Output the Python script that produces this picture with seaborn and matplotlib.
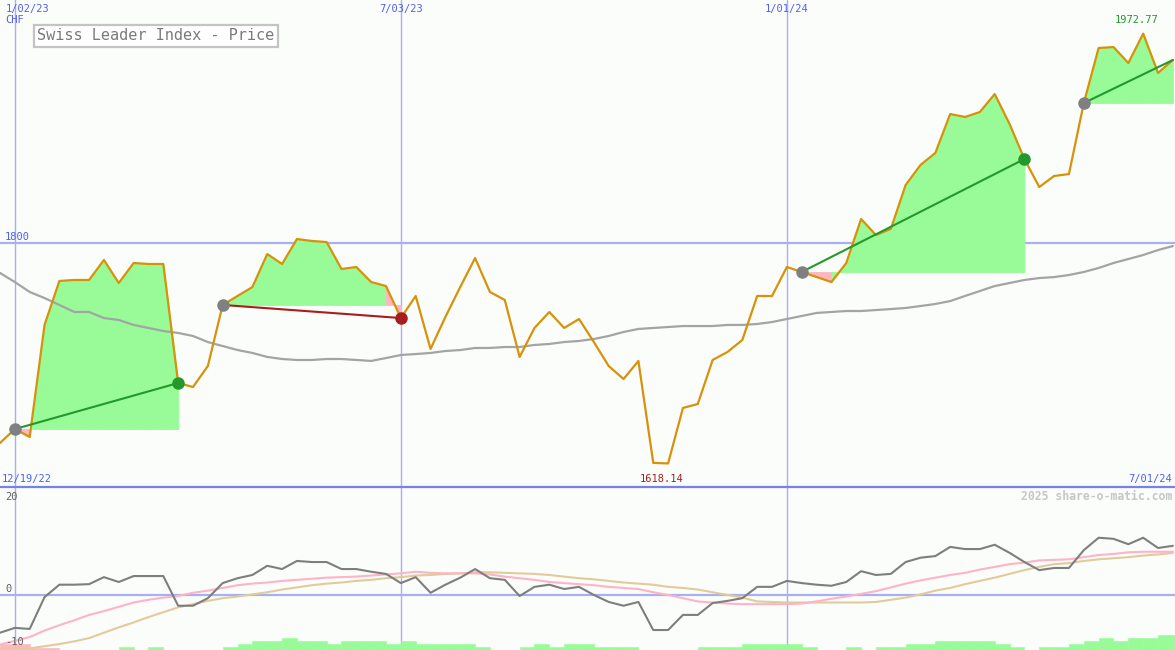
import numpy as np
import pandas as pd
import matplotlib
matplotlib.use('Agg')
import matplotlib.pyplot as plt
import matplotlib.dates as mdates
import matplotlib.transforms as mtransforms
import seaborn as sns

# weekly closes, Swiss Leader Index (CHF)
dates = pd.date_range('2022-12-26', periods=80, freq='7D')
price = [1635.0, 1646.5, 1640.0, 1732.4, 1768.7, 1769.5, 1769.5, 1786.0, 1767.0, 1783.5,
         1782.7, 1782.7, 1684.5, 1681.2, 1698.5, 1748.9, 1756.3, 1763.7, 1790.9, 1782.7,
         1803.3, 1801.7, 1800.8, 1778.6, 1780.2, 1767.8, 1764.5, 1738.1, 1756.3, 1712.6,
         1739.0, 1763.7, 1787.6, 1759.6, 1753.0, 1706.0, 1729.9, 1743.1, 1729.9, 1737.3,
         1718.3, 1698.5, 1687.8, 1702.7, 1618.6, 1618.14, 1663.9, 1667.2, 1703.5, 1710.1,
         1720.0, 1756.3, 1756.3, 1780.2, 1776.1, 1772.0, 1767.8, 1783.5, 1819.8, 1806.6,
         1811.6, 1847.9, 1864.4, 1874.3, 1906.4, 1904.0, 1908.1, 1922.9, 1898.2, 1869.3,
         1846.2, 1855.3, 1856.9, 1915.5, 1960.9, 1961.7, 1948.5, 1972.77, 1940.3, 1951.0]
avg = [1775.3, 1767.8, 1759.6, 1754.6, 1748.9, 1743.1, 1743.1, 1738.1, 1736.5, 1732.4,
       1729.9, 1727.4, 1725.8, 1723.3, 1718.3, 1715.0, 1711.7, 1709.3, 1706.0, 1704.3,
       1703.5, 1703.5, 1704.3, 1704.3, 1703.5, 1702.7, 1705.1, 1707.6, 1708.4, 1709.3,
       1710.9, 1711.7, 1713.4, 1713.4, 1714.2, 1714.2, 1715.9, 1716.7, 1718.3, 1719.2,
       1720.8, 1723.3, 1726.6, 1729.1, 1729.9, 1730.7, 1731.5, 1731.5, 1731.5, 1732.4,
       1732.4, 1733.2, 1734.8, 1737.3, 1739.8, 1742.3, 1743.1, 1743.9, 1743.9, 1744.7,
       1745.5, 1746.4, 1748.0, 1749.7, 1752.1, 1756.3, 1760.4, 1764.5, 1767.0, 1769.5,
       1771.1, 1771.9, 1773.6, 1776.1, 1779.4, 1783.5, 1786.8, 1790.1, 1794.2, 1797.5]

# trades: entry / exit week index (None = still open)
entries = [1, 15, 54, 73]
exits = [12, 27, 69, None]

# lower panel indicator
momentum = [-7.0, -6.1, -6.3, -0.4, 1.9, 1.9, 2.0, 3.3, 2.4, 3.5,
            3.5, 3.5, -2.0, -2.0, -0.6, 2.2, 3.1, 3.7, 5.4, 4.8,
            6.3, 6.1, 6.1, 4.8, 4.8, 4.3, 3.9, 2.2, 3.3, 0.4,
            1.9, 3.2, 4.8, 3.1, 2.8, -0.2, 1.5, 1.9, 1.1, 1.5,
            0.0, -1.3, -2.0, -1.3, -6.5, -6.5, -3.7, -3.7, -1.5, -1.1,
            -0.6, 1.5, 1.5, 2.6, 2.2, 1.9, 1.7, 2.4, 4.4, 3.7,
            3.9, 6.1, 6.9, 7.2, 8.9, 8.5, 8.5, 9.3, 7.8, 6.1,
            4.6, 5.0, 5.0, 8.3, 10.6, 10.4, 9.4, 10.6, 8.7, 9.1]
fast = [-9.2, -8.5, -7.8, -6.6, -5.6, -4.7, -3.7, -3.0, -2.2, -1.4,
        -0.9, -0.5, -0.2, 0.4, 0.8, 1.3, 1.8, 2.1, 2.3, 2.6,
        2.8, 3.0, 3.2, 3.3, 3.4, 3.6, 3.8, 4.0, 4.3, 4.1,
        4.0, 4.0, 4.0, 3.8, 3.4, 3.1, 2.8, 2.4, 2.2, 2.0,
        1.8, 1.5, 1.3, 1.1, 0.5, 0.0, -0.6, -1.2, -1.4, -1.6,
        -1.7, -1.7, -1.7, -1.7, -1.6, -1.2, -0.7, -0.3, 0.2, 0.7,
        1.4, 2.1, 2.7, 3.2, 3.7, 4.1, 4.7, 5.2, 5.7, 6.0,
        6.4, 6.5, 6.6, 7.0, 7.4, 7.6, 7.9, 8.0, 8.0, 8.0]
slow = [-10.1, -10.1, -9.9, -9.5, -9.1, -8.6, -8.0, -7.0, -6.0, -5.1,
        -4.1, -3.2, -2.3, -1.7, -1.1, -0.6, -0.3, 0.1, 0.5, 1.0,
        1.4, 1.8, 2.1, 2.3, 2.6, 2.8, 3.1, 3.3, 3.6, 3.7,
        3.9, 4.0, 4.2, 4.2, 4.1, 4.0, 3.9, 3.7, 3.4, 3.1,
        2.9, 2.6, 2.3, 2.1, 1.9, 1.5, 1.3, 1.0, 0.5, 0.0,
        -0.5, -1.2, -1.3, -1.4, -1.4, -1.4, -1.4, -1.4, -1.4, -1.3,
        -0.9, -0.5, 0.1, 0.8, 1.3, 2.0, 2.6, 3.2, 3.9, 4.6,
        5.2, 5.7, 5.9, 6.3, 6.6, 6.8, 7.0, 7.3, 7.5, 7.8]
hist = [-1.1, -1.1, -0.4, -0.4, 0, 0, 0, 0, 0.55, 0,
        0.55, 0, 0, 0, 0, 0.55, 1.1, 1.7, 1.7, 2.2,
        1.7, 1.7, 1.1, 1.7, 1.7, 1.7, 1.1, 1.7, 1.1, 1.1,
        1.1, 1.1, 0.55, 0, 0, 0.55, 1.1, 0.55, 1.1, 1.1,
        0.55, 0.55, 0.55, 0, 0, 0, 0, 0.55, 0.55, 0.55,
        1.1, 1.1, 1.1, 1.1, 0.55, 0, 0, 0.55, 0, 0.55,
        0.55, 1.1, 1.1, 1.7, 1.7, 1.7, 1.7, 1.1, 0.55, 0,
        0.55, 0.55, 1.1, 1.7, 2.2, 1.7, 2.2, 2.2, 2.8, 2.8]

grid_dates = pd.to_datetime(['2023-01-02', '2023-07-03', '2024-01-01'])
grid_labels = ['1/02/23', '7/03/23', '1/01/24']

BG = '#FBFDFB'
GRID = '#A8B0F0'
SEP = '#7482EA'
LABEL = '#4F5FF0'
PRICE = '#D8920A'
AVG = '#A4A4A4'
GREEN_FILL = '#98FB98'
PINK_FILL = '#FFB6C1'
WIN = '#22992A'
LOSS = '#A61E1E'
ENTRY = '#808080'

sns.set_style('white')
plt.rcParams['font.family'] = ['DejaVu Sans Mono']

fig = plt.figure(figsize=(11.75, 6.5), dpi=100, facecolor=BG)
ax = fig.add_axes([0, 163 / 650, 1, 487 / 650], facecolor=BG)
ax2 = fig.add_axes([0, 0, 1, 163 / 650], facecolor=BG)

xmin, xmax = dates[0], dates[-1] + pd.Timedelta(days=1)
xmin_n = mdates.date2num(xmin)
for a in (ax, ax2):
    a.set_xlim(xmin, xmax)
    a.set_xticks([])
    a.set_yticks([])
    for s in a.spines.values():
        s.set_visible(False)
    for d in grid_dates:
        a.axvline(d, color=GRID, lw=1.0, zorder=1)
ax.set_ylim(1598.7, 2000.5)
ax2.set_ylim(-10.2, 20)

# ---- top panel
ax.axhline(1800, color=GRID, lw=1.6, zorder=1)

for e, x in zip(entries, exits):
    end = len(price) - 1 if x is None else x
    level = price[e]
    for j in range(e, end):
        col = GREEN_FILL if price[j + 1] >= level else PINK_FILL
        ax.fill_between(dates[j:j + 2], price[j:j + 2], level, facecolor=col,
                        edgecolor=col, lw=0.6, zorder=2)

sns.lineplot(x=dates, y=avg, ax=ax, color=AVG, lw=1.6, zorder=3)
sns.lineplot(x=dates, y=price, ax=ax, color=PRICE, lw=1.6, zorder=4)

for e, x in zip(entries, exits):
    end = len(price) - 1 if x is None else x
    won = price[end] >= price[e]
    lc = WIN if won else LOSS
    ax.plot([dates[e], dates[end]], [price[e], price[end]], color=lc, lw=1.5, zorder=5)
    ax.plot(dates[e], price[e], 'o', ms=8, color=ENTRY, zorder=6)
    if x is not None:
        ax.plot(dates[end], price[end], 'o', ms=8, color=lc, zorder=6)

top = mtransforms.blended_transform_factory(ax.transData, ax.transAxes)
for d, lab in zip(grid_dates, grid_labels):
    first = d == grid_dates[0]
    ax.annotate(lab, (mdates.date2num(d), 1 - 9 / 487), xycoords=top,
                xytext=(-9 if first else 0, 0), textcoords='offset pixels',
                ha='left' if first else 'center', va='center', fontsize=7.5, color=LABEL)
ax.text(5 / 1175, 1 - 20 / 487, 'CHF', transform=ax.transAxes, fontsize=7.5,
        color=LABEL, va='center')
ax.annotate('1800', (xmin_n, 1800), xytext=(5, 1), textcoords='offset pixels',
            fontsize=7.5, color=LABEL, va='bottom')
ax.text(37 / 1175, 1 - 36 / 487, 'Swiss Leader Index - Price', transform=ax.transAxes,
        fontsize=11, color='#7A7A7A', va='center',
        bbox=dict(boxstyle='square,pad=0.22', fc='white', ec='#C4C4C4', lw=1.6))

imax = int(np.argmax(price))
imin = int(np.argmin(price))
ax.annotate(f'{price[imax]:.2f}', (mdates.date2num(dates[imax]), price[imax]), xytext=(-7, 14),
            textcoords='offset pixels', ha='center', va='center', fontsize=7.5, color=WIN)
ax.annotate(f'{price[imin]:.2f}', (mdates.date2num(dates[imin]), price[imin]), xytext=(-7, -16),
            textcoords='offset pixels', ha='center', va='center', fontsize=7.5, color=LOSS)
ax.text(2 / 1175, 8 / 487, '12/19/22', transform=ax.transAxes, fontsize=7.5,
        color=LABEL, va='center', ha='left')
ax.text(1 - 3 / 1175, 8 / 487, '7/01/24', transform=ax.transAxes, fontsize=7.5,
        color=LABEL, va='center', ha='right')

# ---- bottom panel
ax2.spines['top'].set_visible(True)
ax2.spines['top'].set_color(SEP)
ax2.spines['top'].set_linewidth(1.6)
ax2.axhline(0, color=GRID, lw=1.6, zorder=1)

hcol = [GREEN_FILL if h >= 0 else PINK_FILL for h in hist]
ax2.bar(dates, np.abs(hist), width=7, align='edge',
        bottom=-10.2, color=hcol, edgecolor=hcol, lw=0.4, zorder=2)

sns.lineplot(x=dates, y=slow, ax=ax2, color='#E2CB9A', lw=1.5, zorder=3)
sns.lineplot(x=dates, y=fast, ax=ax2, color='#FFB3C6', lw=1.5, zorder=3)
sns.lineplot(x=dates, y=momentum, ax=ax2, color='#7E7E7E', lw=1.5, zorder=4)

ax2.text(1 - 3 / 1175, 1 - 9 / 163, '2025 share-o-matic.com', transform=ax2.transAxes,
         fontsize=8.3, color='#C6C6C6', fontweight='bold', ha='right', va='center')
ax2.text(5 / 1175, 1 - 10 / 163, '20', transform=ax2.transAxes, fontsize=7.5,
         color='#606060', va='center')
ax2.annotate('0', (xmin_n, 0), xytext=(5, 1), textcoords='offset pixels',
             fontsize=7.5, color='#606060', va='bottom')
ax2.text(5 / 1175, 8 / 163, '-10', transform=ax2.transAxes, fontsize=7.5,
         color='#606060', va='center')

fig.savefig('out.png', dpi=100, facecolor=BG)
